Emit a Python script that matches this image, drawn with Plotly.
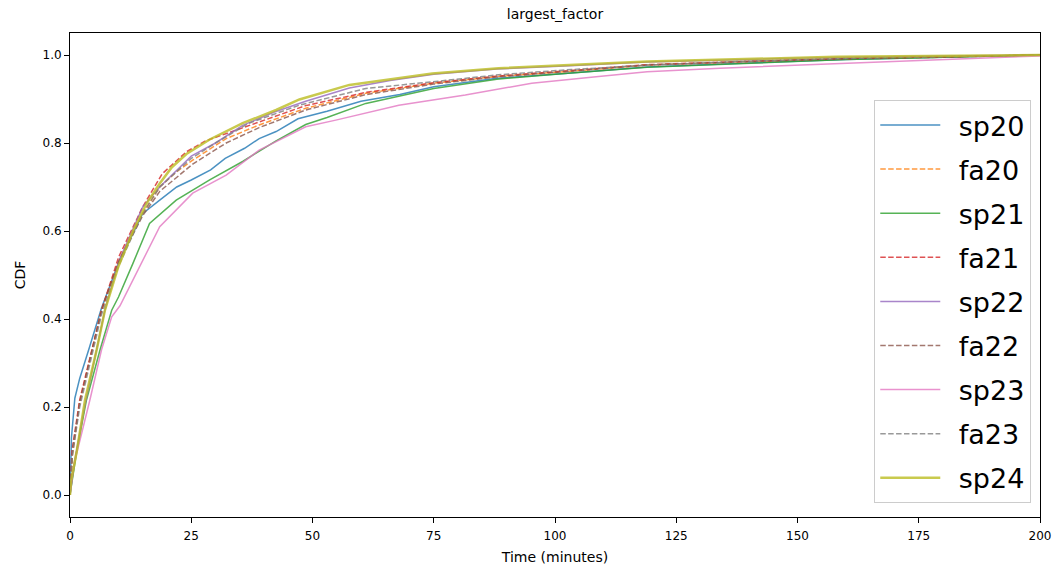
import plotly.graph_objects as go

# ---- data ----
names = ["sp20", "fa20", "sp21", "fa21", "sp22", "fa22", "sp23", "fa23", "sp24"]

sp20_t = [0, 0.3, 1, 2, 4, 6.5, 10, 15, 18.5, 22, 25, 29, 32, 36, 39, 42.5, 47, 53, 60, 68, 75, 88, 102, 119, 140, 160, 180, 200]
sp20_c = [0.0, 0.13, 0.22, 0.265, 0.335, 0.425, 0.527, 0.64, 0.67, 0.70, 0.716, 0.739, 0.765, 0.788, 0.81, 0.826, 0.855, 0.872, 0.895, 0.91, 0.928, 0.947, 0.958, 0.973, 0.982, 0.99, 0.995, 1.0]

fa20_t = [0, 0.5, 2, 4.5, 6.5, 10, 13, 15, 18.5, 22, 25.3, 32.2, 39, 48.6, 61, 75, 88, 102, 119, 140, 160, 180, 200]
fa20_c = [0, 0.09, 0.21, 0.33, 0.42, 0.53, 0.6, 0.64, 0.70, 0.735, 0.761, 0.81, 0.841, 0.879, 0.913, 0.936, 0.951, 0.962, 0.977, 0.985, 0.991, 0.995, 1.0]

sp21_t = [0, 1.4, 3.4, 6.2, 8.6, 10, 13, 16.4, 21.9, 25.3, 28.8, 35.6, 42.5, 48.6, 53, 61, 75, 88, 102, 119, 140, 160, 180, 200]
sp21_c = [0, 0.1, 0.216, 0.33, 0.42, 0.45, 0.527, 0.617, 0.67, 0.693, 0.716, 0.758, 0.805, 0.842, 0.858, 0.89, 0.924, 0.945, 0.958, 0.972, 0.982, 0.99, 0.995, 1.0]

fa21_t = [0, 0.4, 2, 4.5, 6.5, 10, 15, 19, 24, 28, 35.6, 42, 48.6, 61, 75, 88, 102, 119, 140, 160, 180, 200]
fa21_c = [0, 0.1, 0.216, 0.33, 0.42, 0.54, 0.655, 0.73, 0.78, 0.805, 0.835, 0.86, 0.885, 0.915, 0.937, 0.952, 0.963, 0.978, 0.986, 0.992, 0.996, 1.0]

sp22_t = [0, 1, 3, 5.5, 7.2, 10, 15, 18.5, 25, 30, 35.6, 42, 48.6, 57.6, 66, 75, 88, 102, 119, 140, 160, 180, 200]
sp22_c = [0, 0.08, 0.2, 0.33, 0.42, 0.53, 0.655, 0.70, 0.77, 0.80, 0.84, 0.87, 0.895, 0.925, 0.942, 0.956, 0.968, 0.975, 0.984, 0.99, 0.995, 0.998, 1.0]

fa22_t = [0, 0.5, 2, 4.5, 6.5, 10, 15, 18.5, 25.3, 32.2, 39, 48.6, 61, 75, 88, 102, 119, 140, 160, 180, 200]
fa22_c = [0, 0.1, 0.21, 0.33, 0.42, 0.53, 0.635, 0.69, 0.752, 0.80, 0.835, 0.875, 0.91, 0.934, 0.95, 0.962, 0.977, 0.985, 0.992, 0.996, 1.0]

sp23_t = [0, 0.7, 4.1, 6.5, 8.6, 10.3, 14, 18.5, 25.3, 32.2, 39, 48.6, 54.8, 67.8, 81.5, 95.2, 109, 119, 134, 151, 172, 200]
sp23_c = [0, 0.064, 0.216, 0.33, 0.405, 0.43, 0.511, 0.61, 0.686, 0.727, 0.784, 0.837, 0.852, 0.886, 0.909, 0.936, 0.951, 0.962, 0.97, 0.977, 0.985, 0.998]

fa23_t = [0, 0.5, 2, 4.5, 6.5, 10, 15, 18.5, 25, 30, 36.9, 47.3, 61, 74.7, 88.4, 102, 119, 140, 160, 180, 200]
fa23_c = [0, 0.09, 0.2, 0.32, 0.41, 0.52, 0.64, 0.70, 0.765, 0.80, 0.845, 0.886, 0.924, 0.939, 0.955, 0.966, 0.977, 0.986, 0.992, 0.996, 1.0]

sp24_t = [0, 0.2, 1.4, 3.1, 5.5, 7.2, 10, 13, 15.8, 18.5, 21, 24, 28.8, 35.6, 42.5, 47.3, 57.6, 74.7, 88.4, 102, 119, 158, 200]
sp24_c = [0, 0.03, 0.1, 0.216, 0.33, 0.42, 0.52, 0.6, 0.663, 0.708, 0.745, 0.775, 0.808, 0.845, 0.875, 0.899, 0.932, 0.958, 0.97, 0.977, 0.985, 0.996, 1.0]

x_ticks = [0, 25, 50, 75, 100, 125, 150, 175, 200]
y_ticks = [0.0, 0.2, 0.4, 0.6, 0.8, 1.0]

DASH = "5.5px,2.4px"
series = [
    ("sp20", sp20_t, sp20_c, "#1f77b4", "solid", 1.5),
    ("fa20", fa20_t, fa20_c, "#ff7f0e", DASH, 1.5),
    ("sp21", sp21_t, sp21_c, "#2ca02c", "solid", 1.5),
    ("fa21", fa21_t, fa21_c, "#d62728", DASH, 1.5),
    ("sp22", sp22_t, sp22_c, "#9467bd", "solid", 1.5),
    ("fa22", fa22_t, fa22_c, "#8c564b", DASH, 1.5),
    ("sp23", sp23_t, sp23_c, "#e377c2", "solid", 1.5),
    ("fa23", fa23_t, fa23_c, "#7f7f7f", DASH, 1.5),
    ("sp24", sp24_t, sp24_c, "#bcbd22", "solid", 2.5),
]

fig = go.Figure()
for name, t, c, col, dash, w in series:
    fig.add_trace(go.Scatter(
        x=t, y=c, mode="lines", name="\u2002" + name, legendgroup=name,
        line=dict(color=col, dash=dash, width=w), opacity=0.8,
    ))

font_family = "DejaVu Sans, sans-serif"
fig.update_layout(
    width=1063, height=574,
    margin=dict(l=70, r=20, t=33, b=57),
    paper_bgcolor="white", plot_bgcolor="white",
    font=dict(family=font_family, color="black", size=12),
    title=dict(text="largest_factor", x=0.5, xref="paper", xanchor="center",
               y=1 - 14 / 574, yanchor="middle", font=dict(size=14)),
    legend=dict(
        x=0.991, xanchor="right", y=0.029, yanchor="bottom",
        bgcolor="rgba(255,255,255,0.8)", bordercolor="#cccccc", borderwidth=1,
        font=dict(size=27), tracegroupgap=6, itemwidth=60,
    ),
    showlegend=True,
)
fig.update_xaxes(
    range=[0, 200], tickvals=x_ticks, showgrid=False, zeroline=False,
    showline=True, linecolor="black", linewidth=1, mirror=True,
    ticks="outside", ticklen=5, tickcolor="black", ticklabelstandoff=3,
    title=dict(text="Time (minutes)", font=dict(size=14), standoff=9),
)
fig.update_yaxes(
    range=[-0.05, 1.05], tickvals=y_ticks, tickformat=".1f", showgrid=False, zeroline=False,
    showline=True, linecolor="black", linewidth=1, mirror=True,
    ticks="outside", ticklen=5, tickcolor="black",
    title=dict(text="CDF", font=dict(size=14), standoff=13),
)

fig.write_html("out.html")
